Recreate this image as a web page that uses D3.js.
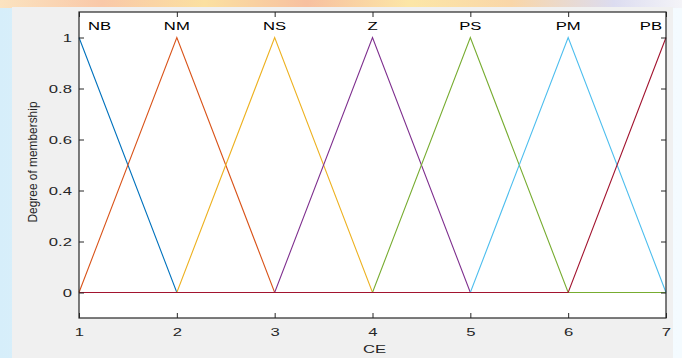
<!DOCTYPE html>
<html><head><meta charset="utf-8">
<script src="https://cdn.jsdelivr.net/npm/d3@7"></script>
<style>
html,body{margin:0;padding:0;}
body{width:682px;height:358px;overflow:hidden;background:linear-gradient(90deg,#d6eefa 0%,#eef8fd 40%,#f4fbff 100%);}
svg{display:block;font-family:"Liberation Sans",Arial,sans-serif;}
</style></head>
<body>
<svg id="chart" width="682" height="358"></svg>
<script>
// Universe of discourse for CE and the seven fuzzy sets
const xTicks = [1, 2, 3, 4, 5, 6, 7];
const yTicks = [0, 0.2, 0.4, 0.6, 0.8, 1];
const setNames = ["NB", "NM", "NS", "Z", "PS", "PM", "PB"];
const setPeaks = [1, 2, 3, 4, 5, 6, 7];
// membership grade of each set at x = 1..7
const NB = [1, 0, 0, 0, 0, 0, 0];
const NM = [0, 1, 0, 0, 0, 0, 0];
const NS = [0, 0, 1, 0, 0, 0, 0];
const Z  = [0, 0, 0, 1, 0, 0, 0];
const PS = [0, 0, 0, 0, 1, 0, 0];
const PM = [0, 0, 0, 0, 0, 1, 0];
const PB = [0, 0, 0, 0, 0, 0, 1];
const series = [NB, NM, NS, Z, PS, PM, PB];
const colors = ["#0072BD", "#D95319", "#EDB120", "#7E2F8E", "#77AC30", "#4DBEEE", "#A2142F"];

const svg = d3.select("#chart");
const SX = 1.45;     // wide glyph rendering used for all axis text
const FS = 11.5;

// decorative banner strip and figure panel
const defs = svg.append("defs");
const g1 = defs.append("linearGradient").attr("id", "band");
[["0%", "#fbe3c0"], ["15%", "#f9c8a8"], ["30%", "#fbe0a0"], ["45%", "#f7c0a0"], ["60%", "#fce6a6"], ["75%", "#f9d6a8"], ["90%", "#dcdcf0"], ["100%", "#f4f4f8"]]
  .forEach(([o, c]) => g1.append("stop").attr("offset", o).attr("stop-color", c));
svg.append("rect").attr("x", 0).attr("y", 0).attr("width", 682).attr("height", 8).attr("fill", "url(#band)");
svg.append("rect").attr("x", 12).attr("y", 7).attr("width", 661).attr("height", 351).attr("fill", "#f0f0f0");

const pL = 79, pR = 666, pT = 12, pB = 318;
const x = d3.scaleLinear().domain([1, 7]).range([pL, pR]);
const y = d3.scaleLinear().domain([-0.1, 1.1]).range([pB, pT]);

svg.append("rect").attr("x", pL).attr("y", pT).attr("width", pR - pL).attr("height", pB - pT).attr("fill", "#fff");

const line = d3.line().x((d, i) => x(xTicks[i])).y(d => y(d));
series.forEach((s, k) => {
  svg.append("path").datum(s).attr("d", line).attr("fill", "none")
    .attr("stroke", colors[k]).attr("stroke-width", 1.1);
});

// stretch a text element horizontally about its anchor point
function widen(sel) {
  sel.each(function () {
    const t = d3.select(this);
    const ax = +t.attr("x") || 0;
    t.attr("transform", `translate(${ax},0) scale(${SX},1) translate(${-ax},0)`);
  });
}

// axes with inward ticks on all four sides
const tick = 5;
const axB = svg.append("g").attr("transform", `translate(0,${pB})`)
  .call(d3.axisBottom(x).tickValues(xTicks).tickSizeInner(-tick).tickSizeOuter(0).tickPadding(10).tickFormat(d3.format("d")));
const axT = svg.append("g").attr("transform", `translate(0,${pT})`)
  .call(d3.axisTop(x).tickValues(xTicks).tickSizeInner(-tick).tickSizeOuter(0).tickFormat(""));
const axL = svg.append("g").attr("transform", `translate(${pL},0)`)
  .call(d3.axisLeft(y).tickValues(yTicks).tickSizeInner(-tick).tickSizeOuter(0).tickPadding(7).tickFormat(d => d === 0 || d === 1 ? d3.format("d")(d) : d3.format(".1f")(d)));
const axR = svg.append("g").attr("transform", `translate(${pR},0)`)
  .call(d3.axisRight(y).tickValues(yTicks).tickSizeInner(-tick).tickSizeOuter(0).tickFormat(""));
[axB, axT, axL, axR].forEach(a => {
  a.select(".domain").remove();
  a.selectAll("line").attr("stroke", "#262626");
  a.selectAll("text").attr("fill", "#262626").attr("font-size", FS).style("font-family", "'Liberation Sans',Arial,sans-serif");
});
widen(axB.selectAll("text"));
widen(axL.selectAll("text"));
svg.append("rect").attr("x", pL).attr("y", pT).attr("width", pR - pL).attr("height", pB - pT)
  .attr("fill", "none").attr("stroke", "#262626").attr("stroke-width", 1.2);

// set labels above each peak
setNames.forEach((n, i) => {
  let px = x(setPeaks[i]), anchor = "middle";
  if (i === 0) { px = x(setPeaks[i]) + 9; anchor = "start"; }
  if (i === setNames.length - 1) { px = x(setPeaks[i]) - 4; anchor = "end"; }
  svg.append("text").attr("x", px).attr("y", 30).attr("text-anchor", anchor)
    .attr("font-size", FS).attr("fill", "#000").text(n).call(widen);
});

svg.append("text").attr("x", (pL + pR) / 2 + 2).attr("y", 353).attr("text-anchor", "middle")
  .attr("font-size", FS).attr("fill", "#262626").text("CE").call(widen);
svg.append("text").attr("transform", "translate(36.5,162) rotate(-90)").attr("text-anchor", "middle")
  .attr("font-size", 12).attr("fill", "#262626").attr("textLength", 121).attr("lengthAdjust", "spacingAndGlyphs").text("Degree of membership");
</script>
</body></html>
